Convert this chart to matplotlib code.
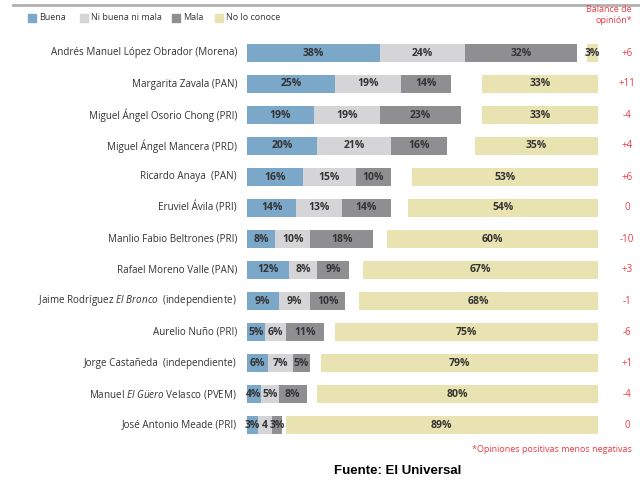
import matplotlib
matplotlib.use('Agg')
import matplotlib.pyplot as plt
from matplotlib.patches import Rectangle

names = ["Andrés Manuel López Obrador (Morena)", "Margarita Zavala (PAN)",
         "Miguel Ángel Osorio Chong (PRI)", "Miguel Ángel Mancera (PRD)",
         "Ricardo Anaya  (PAN)", "Eruviel Ávila (PRI)", "Manlio Fabio Beltrones (PRI)",
         "Rafael Moreno Valle (PAN)",
         r"Jaime Rodríguez $\mathit{El\ Bronco}$  (independiente)",
         "Aurelio Nuño (PRI)", "Jorge Castañeda  (independiente)",
         r"Manuel $\mathit{El\ Güero}$ Velasco (PVEM)", "José Antonio Meade (PRI)"]
buena = [38, 25, 19, 20, 16, 14, 8, 12, 9, 5, 6, 4, 3]
ni_buena = [24, 19, 19, 21, 15, 13, 10, 8, 9, 6, 7, 5, 4]
mala = [32, 14, 23, 16, 10, 14, 18, 9, 10, 11, 5, 8, 3]
no_conoce = [3, 33, 33, 35, 53, 54, 60, 67, 68, 75, 79, 80, 89]
balance = ["+6", "+11", "-4", "+4", "+6", "0", "-10", "+3", "-1", "-6", "+1", "-4", "0"]
ni_labels = [f"{v}%" for v in ni_buena]
ni_labels[-1] = "4"

series = ["Buena", "Ni buena ni mala", "Mala", "No lo conoce"]
colors = ["#7ba7c9", "#d5d5d7", "#8f8f92", "#e9e3b2"]
red = "#ec3b43"

plt.rcParams['font.family'] = ['Open Sans', 'DejaVu Sans']
plt.rcParams['mathtext.fontset'] = 'custom'
plt.rcParams['mathtext.rm'] = 'Open Sans'
plt.rcParams['mathtext.it'] = 'Open Sans:italic'

W, H = 640, 483
fig = plt.figure(figsize=(W / 100, H / 100), dpi=100)
ax = fig.add_axes([0, 0, 1, 1])
ax.axis('off')

# pixel mapping: 0 -> x 247, 100 -> x 598 ; row i -> y 53 + 31 i
sx = 3.51
ax.set_xlim(-247 / sx, (W - 247) / sx)
ax.set_ylim((H - 53) / 31, -53 / 31)

rows = list(range(len(names)))
h = 0.6
left = [0] * len(rows)
for vals, col, labs in [(buena, colors[0], [f"{v}%" for v in buena]),
                        (ni_buena, colors[1], ni_labels),
                        (mala, colors[2], [f"{v}%" for v in mala])]:
    ax.barh(rows, vals, left=left, height=h, color=col)
    for i, (v, l, t) in enumerate(zip(vals, left, labs)):
        ax.text(l + v / 2, i, t, ha='center', va='center', fontsize=7.5,
                fontweight='bold', color='#333333')
    left = [a + b for a, b in zip(left, vals)]

nl_left = [100 - v for v in no_conoce]
ax.barh(rows, no_conoce, left=nl_left, height=h, color=colors[3])
for i, v in enumerate(no_conoce):
    ax.text(nl_left[i] + v / 2, i, f"{v}%", ha='center', va='center', fontsize=7.5,
            fontweight='bold', color='#333333')

for i, n in enumerate(names):
    ax.text(-10 / sx, i, n, ha='right', va='center', fontsize=7.1, color='#333333')
    ax.text((627 - 247) / sx, i, balance[i], ha='center', va='center',
            fontsize=7, color=red)

def fx(px):
    return px / W

def fy(py):
    return 1 - py / H

# top rule
fig.add_artist(plt.Line2D([fx(13), fx(640)], [fy(5), fy(5)], color='#b0b0b0', lw=2))

# legend
leg_x = [28, 80, 172, 215]
for x, s, c in zip(leg_x, series, colors):
    fig.add_artist(Rectangle((fx(x), fy(22)), 8 / W, 8 / H, color=c))
    fig.text(fx(x + 11), fy(18), s, ha='left', va='center', fontsize=6.5, color='#333333')

fig.text(fx(632), fy(15), "Balance de\nopinión*", ha='right', va='center',
         multialignment='right', fontsize=6.5, color=red, linespacing=1.2)
fig.text(fx(632), fy(450), "*Opiniones positivas menos negativas", ha='right',
         va='center', fontsize=6.5, color=red)
fig.text(fx(398), fy(471), "Fuente: El Universal", ha='center', va='center',
         fontsize=9.5, fontweight='bold', family='Liberation Sans', color='black')

fig.savefig('out.png', dpi=100)
